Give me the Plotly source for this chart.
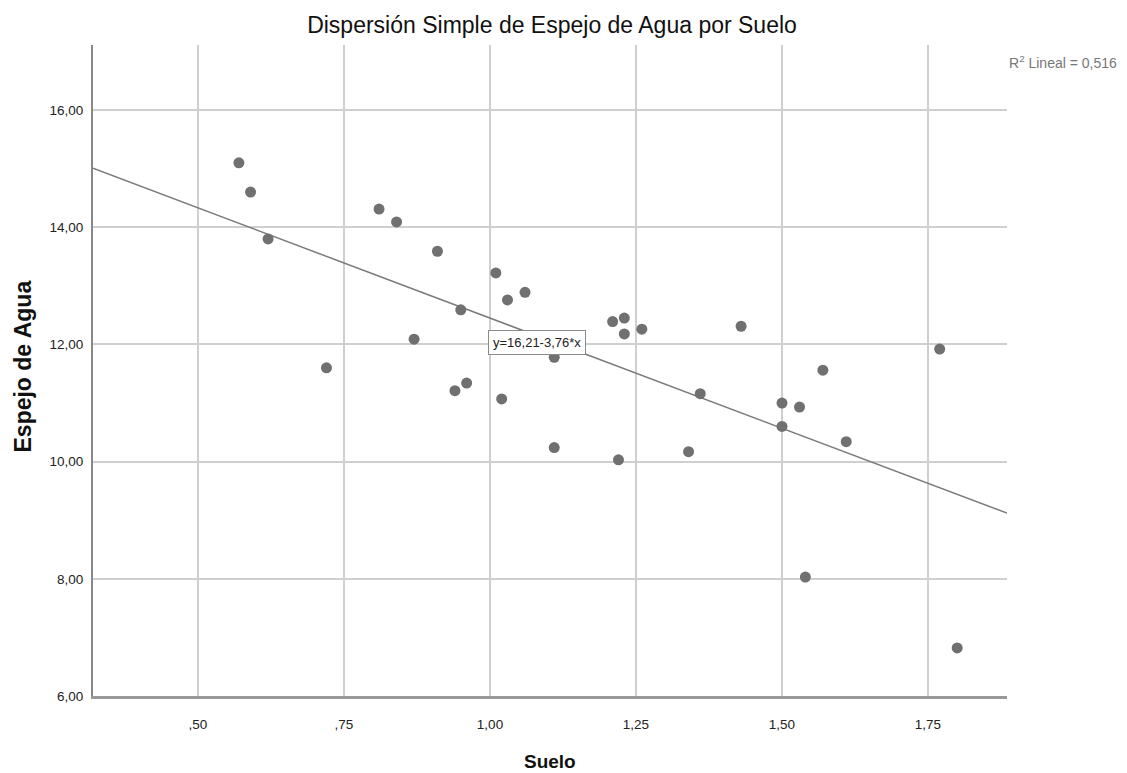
import plotly.graph_objects as go

# Data
suelo = [0.57, 0.59, 0.62, 0.72, 0.81, 0.84, 0.87, 0.91, 0.94, 0.95, 0.96,
         1.01, 1.02, 1.03, 1.06, 1.11, 1.11, 1.21, 1.22, 1.23, 1.23, 1.26,
         1.34, 1.36, 1.43, 1.50, 1.50, 1.53, 1.54, 1.57, 1.61, 1.77, 1.80]
espejo = [15.10, 14.60, 13.80, 11.60, 14.31, 14.09, 12.09, 13.59, 11.21, 12.59, 11.34,
          13.22, 11.07, 12.76, 12.89, 10.24, 11.78, 12.39, 10.03, 12.45, 12.18, 12.26,
          10.17, 11.16, 12.31, 11.00, 10.60, 10.93, 8.03, 11.56, 10.34, 11.92, 6.82]

intercept = 16.21
slope = -3.76
r2_text = "0,516"
eq_text = "y=16,21-3,76*x"

x_range = [0.3202, 1.8853]
y_range = [6.0, 17.11]

x_ticks = [0.50, 0.75, 1.00, 1.25, 1.50, 1.75]
x_ticklabels = [",50", ",75", "1,00", "1,25", "1,50", "1,75"]
y_ticks = [6, 8, 10, 12, 14, 16]
y_ticklabels = ["6,00", "8,00", "10,00", "12,00", "14,00", "16,00"]

FONT = "Liberation Sans, Arial, sans-serif"

W, H = 1119, 765
ML, MR, MT, MB = 85, 120, 37, 77

fig = go.Figure()

fit_x = x_range
fit_y = [intercept + slope * v for v in fit_x]
fig.add_trace(go.Scatter(x=fit_x, y=fit_y, mode="lines",
                         line=dict(color="#7a7a7a", width=1.5),
                         hoverinfo="skip", showlegend=False))

fig.add_trace(go.Scatter(x=suelo, y=espejo, mode="markers",
                         marker=dict(color="#707070", size=11, line=dict(width=0)),
                         showlegend=False))

fig.add_annotation(x=1.08, y=12.04, xref="x", yref="y",
                   text=eq_text, showarrow=False,
                   font=dict(family=FONT, size=13, color="#222"),
                   bgcolor="white", bordercolor="#8a8a8a", borderwidth=1, borderpad=4)

fig.add_annotation(x=1.0, y=1.0, xref="paper", yref="paper", xanchor="left", yanchor="middle",
                   yshift=-17,
                   text="R<sup>2</sup> Lineal = " + r2_text, showarrow=False,
                   font=dict(family=FONT, size=14, color="#777"))

# axis titles
fig.add_annotation(x=0.5, y=0, xref="paper", yref="paper", xanchor="center", yanchor="middle",
                   yshift=-65, text="<b>Suelo</b>", showarrow=False,
                   font=dict(family=FONT, size=19, color="#111"))
fig.add_annotation(x=0, y=0.5, xref="paper", yref="paper", xanchor="center", yanchor="middle",
                   xshift=-71, yshift=4, textangle=-90, text="<b>Espejo de Agua</b>", showarrow=False,
                   font=dict(family=FONT, size=23, color="#111"))

fig.update_layout(
    width=W, height=H,
    margin=dict(l=ML, r=MR, t=MT, b=MB),
    paper_bgcolor="white", plot_bgcolor="white",
    title=dict(text="Dispersión Simple de Espejo de Agua por Suelo",
               x=544 / W, xanchor="center", y=1 - 17 / H, yanchor="middle",
               font=dict(family=FONT, size=23, color="#111")),
    xaxis=dict(range=x_range, tickvals=x_ticks, ticktext=x_ticklabels,
               showgrid=True, gridcolor="#cfcfcf", gridwidth=1.5,
               zeroline=False, showline=True, linecolor="#999", linewidth=3,
               ticks="", ticklabelstandoff=14,
               tickfont=dict(family=FONT, size=13.5, color="#222")),
    yaxis=dict(range=y_range, tickvals=y_ticks, ticktext=y_ticklabels,
               showgrid=True, gridcolor="#cfcfcf", gridwidth=2,
               zeroline=False, showline=True, linecolor="#888", linewidth=2,
               ticks="", ticklabelstandoff=5,
               tickfont=dict(family=FONT, size=13.5, color="#222")),
)

fig.write_html("out.html")
